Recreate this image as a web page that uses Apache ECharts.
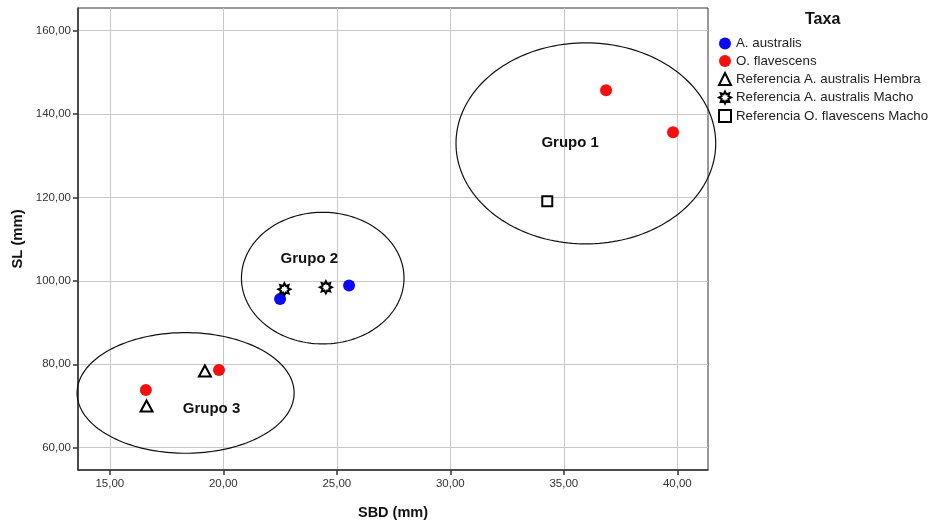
<!DOCTYPE html>
<html>
<head>
<meta charset="utf-8">
<script src="https://cdn.jsdelivr.net/npm/echarts@6/dist/echarts.min.js"></script>
<style>
html,body{margin:0;padding:0;background:#fff;}
#chart{width:931px;height:521px;}
</style>
</head>
<body>
<div id="chart"></div>
<script>
// ---- data ----
const xTicks = [15, 20, 25, 30, 35, 40];
const yTicks = [60, 80, 100, 120, 140, 160];
const seriesNames = ['A. australis', 'O. flavescens', 'Referencia A. australis Hembra', 'Referencia A. australis Macho', 'Referencia O. flavescens Macho'];
const aAustralis = [[22.50, 95.66], [25.54, 98.85]];
const oFlavescens = [[36.86, 145.71], [39.81, 135.63], [19.81, 78.63], [16.59, 73.84]];
const refAAHembra = [[19.19, 78.39], [16.62, 70.0]];
const refAAMacho = [[22.69, 97.98], [24.52, 98.46]];
const refOFMacho = [[34.27, 119.09]];
// group ellipses: centre x, centre y, radius x, radius y (data units)
const groupEllipses = [[35.97, 132.95, 5.72, 24.1], [24.38, 100.65, 3.58, 15.78], [18.34, 73.12, 4.78, 14.46]];
const groupLabels = [[35.28, 133.05, 'Grupo 1'], [23.79, 105.18, 'Grupo 2'], [19.48, 69.21, 'Grupo 3']];

const FONT = 'Liberation Sans, Arial, sans-serif';
function fmt(v) { return v.toFixed(2).replace('.', ','); }

// 8-point star path
function starPath() {
  let pts = [];
  for (let i = 0; i < 16; i++) {
    const a = Math.PI * 2 * i / 16 - Math.PI / 2;
    const r = i % 2 === 0 ? 10 : 6;
    pts.push((10 + r * Math.cos(a)).toFixed(2) + ',' + (10 + r * Math.sin(a)).toFixed(2));
  }
  return 'path://M' + pts.join('L') + 'Z';
}

const chart = echarts.init(document.getElementById('chart'));
const hollow = { color: '#fff', borderColor: '#000', borderWidth: 2, opacity: 1 };

chart.setOption({
  animation: false,
  backgroundColor: '#fff',
  textStyle: { fontFamily: FONT },
  title: {
    text: 'Taxa', left: 800, top: 7,
    textStyle: { fontFamily: FONT, fontSize: 16, fontWeight: 'bold', color: '#111' }
  },
  legend: {
    data: seriesNames,
    orient: 'vertical', left: 713, top: 32,
    itemWidth: 12, itemHeight: 12, itemGap: 4.5,
    textStyle: { fontFamily: FONT, fontSize: 13.3, lineHeight: 13, color: '#222' }
  },
  grid: {
    left: 78, right: 223, top: 8, bottom: 51,
    outerBoundsMode: 'none', containLabel: false,
    show: true, borderColor: '#333', borderWidth: 1, backgroundColor: '#fff'
  },
  xAxis: {
    type: 'value', min: 13.6, max: 41.35,
    name: 'SBD (mm)', nameLocation: 'middle', nameGap: 35,
    nameTextStyle: { fontFamily: FONT, fontSize: 14.5, fontWeight: 'bold', color: '#111' },
    axisLine: { show: true, lineStyle: { color: '#333', width: 1.5 } },
    axisTick: { show: true, length: 5, customValues: xTicks, lineStyle: { color: '#333', width: 1.5 } },
    axisLabel: { customValues: xTicks, formatter: fmt, fontSize: 11.5, color: '#333', margin: 8 },
    splitLine: { show: true, lineStyle: { color: '#c8c8c8', width: 1 } }
  },
  yAxis: {
    type: 'value', min: 54.65, max: 165.4,
    name: 'SL (mm)', nameLocation: 'middle', nameGap: 50,
    nameTextStyle: { fontFamily: FONT, fontSize: 14.8, fontWeight: 'bold', color: '#111' },
    axisLine: { show: true, lineStyle: { color: '#333', width: 1.5 } },
    axisTick: { show: true, length: 5, customValues: yTicks, lineStyle: { color: '#333', width: 1.5 } },
    axisLabel: { customValues: yTicks, formatter: fmt, fontSize: 11.5, color: '#333', margin: 7 },
    splitLine: { show: true, lineStyle: { color: '#c8c8c8', width: 1 } }
  },
  series: [
    {
      type: 'custom', name: 'ellipses', clip: false, silent: true, z: 1,
      data: groupEllipses,
      renderItem: function (params, api) {
        const cx = api.value(0), cy = api.value(1), rx = api.value(2), ry = api.value(3);
        const pts = [];
        for (let i = 0; i < 180; i++) {
          const a = Math.PI * 2 * i / 180;
          pts.push(api.coord([cx + rx * Math.cos(a), cy + ry * Math.sin(a)]));
        }
        return { type: 'polygon', shape: { points: pts }, style: { fill: 'none', stroke: '#111', lineWidth: 1.2 } };
      }
    },
    {
      type: 'custom', name: 'groups', clip: false, silent: true, z: 2,
      data: groupLabels,
      renderItem: function (params, api) {
        const p = api.coord([api.value(0), api.value(1)]);
        return {
          type: 'text', x: p[0], y: p[1],
          style: { text: groupLabels[params.dataIndex][2], fill: '#111', font: 'bold 15px ' + FONT, align: 'center', verticalAlign: 'middle' }
        };
      }
    },
    { type: 'scatter', name: seriesNames[0], data: aAustralis, symbol: 'circle', symbolSize: 12, z: 5, itemStyle: { color: '#0a0af5', opacity: 1 } },
    { type: 'scatter', name: seriesNames[1], data: oFlavescens, symbol: 'circle', symbolSize: 12, z: 5, itemStyle: { color: '#f51010', opacity: 1 } },
    { type: 'scatter', name: seriesNames[2], data: refAAHembra, symbol: 'triangle', symbolSize: [12, 11], z: 5, itemStyle: hollow },
    { type: 'scatter', name: seriesNames[3], data: refAAMacho, symbol: starPath(), symbolSize: 12, z: 5, itemStyle: hollow },
    { type: 'scatter', name: seriesNames[4], data: refOFMacho, symbol: 'rect', symbolSize: 10, z: 5, itemStyle: hollow }
  ]
});
</script>
</body>
</html>
